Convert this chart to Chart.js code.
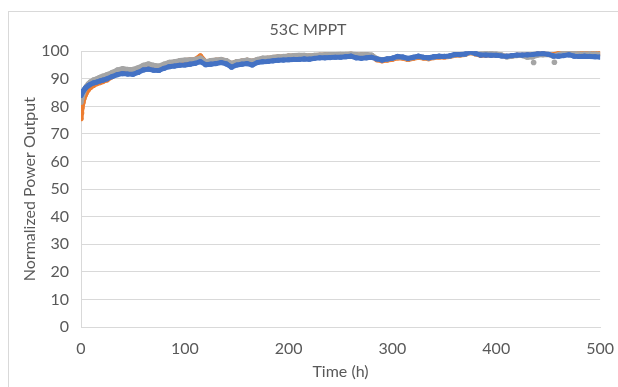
<!DOCTYPE html>
<html>
<head>
<meta charset="utf-8">
<script src="https://cdn.jsdelivr.net/npm/chart.js@4"></script>
<style>
  html, body { margin: 0; padding: 0; background: #ffffff; }
  #wrap { position: relative; width: 618px; height: 387px; overflow: hidden; }
  #frame { position: absolute; left: 8px; top: 11px; width: 640px; height: 420px; border: 1px solid #d9d9d9; box-sizing: border-box; }
  #c { position: absolute; left: 0; top: 0; }
</style>
</head>
<body>
<div id="wrap">
  <div id="frame"></div>
  <canvas id="c" width="618" height="387"></canvas>
</div>
<script>
// Time (h)
const times = [0,1,2,3,4,5,7,9,12,15,18,21,25,30,35,40,45,50,55,60,65,70,75,80,85,90,95,100,
  105,110,115,120,125,130,135,140,145,150,155,160,165,170,175,180,185,190,195,200,
  205,210,215,220,225,230,235,240,245,250,255,260,265,270,275,280,285,290,295,300,
  305,310,315,320,325,330,335,340,345,350,355,360,365,370,375,380,385,390,395,400,
  405,410,415,420,425,430,435,440,445,450,455,460,465,470,475,480,485,490,495,500];

const blueVals = [84.0,84.8,85.5,86.0,86.5,86.9,87.5,88.0,88.5,88.8,89.2,89.5,90.0,90.8,91.5,91.9,91.7,91.6,92.3,93.2,93.5,93.1,93.0,93.8,94.4,94.6,94.9,95.0,
  95.3,95.6,96.2,95.1,95.3,95.5,95.9,95.4,94.2,95.0,95.3,95.5,95.0,95.9,96.2,96.3,96.5,96.7,96.8,96.9,
  97.0,97.0,97.2,97.1,97.4,97.6,97.6,97.7,97.8,97.8,98.0,98.2,97.6,97.4,97.6,97.8,97.2,96.8,97.2,97.5,
  98.1,97.9,97.4,97.8,98.2,97.8,97.6,98.0,98.2,98.1,98.3,98.8,98.8,99.0,99.8,99.2,98.6,98.6,98.5,98.5,
  98.3,98.2,98.4,98.6,98.6,98.7,98.8,99.1,99.2,98.9,98.3,98.2,98.4,98.7,98.2,98.1,98.2,98.1,98.0,97.9];

const grayVals = [81.5,83.0,84.5,85.7,86.5,87.2,88.2,88.9,89.6,90.0,90.5,91.0,91.5,92.3,93.2,93.7,93.4,93.4,94.0,94.9,95.4,94.9,94.6,95.3,96.0,96.2,96.6,96.8,
  96.9,97.0,97.5,96.2,96.6,96.8,97.0,96.6,95.6,96.2,96.5,96.8,96.4,97.0,97.5,97.5,97.8,98.0,98.1,98.3,
  98.4,98.5,98.5,98.3,98.5,98.6,98.7,98.8,98.8,98.9,98.9,99.0,98.8,98.7,98.8,98.6,97.3,96.9,97.2,97.4,
  98.0,97.8,97.3,97.7,98.1,97.7,97.5,97.9,98.1,98.1,98.2,98.7,98.7,98.9,99.6,99.1,99.0,99.4,99.3,99.0,
  98.7,97.9,98.2,98.4,98.4,97.8,97.9,98.6,98.7,98.8,98.2,98.8,99.4,100.3,99.5,99.0,99.0,99.1,99.0,98.9];

const orangeVals = [76.5,79.5,81.5,83.0,84.0,84.8,86.0,86.8,87.6,88.2,88.6,89.0,89.6,90.8,92.2,92.9,92.8,92.7,93.4,94.3,94.8,94.3,94.0,94.9,95.8,96.0,96.4,96.6,
  96.8,97.0,98.3,96.1,96.5,96.7,96.9,96.5,95.5,96.1,96.4,96.7,96.3,96.9,97.3,97.4,97.7,97.9,98.0,98.2,
  98.3,98.4,98.4,98.2,98.4,98.5,98.6,98.7,98.7,98.8,98.8,98.9,98.7,98.6,98.7,98.4,96.9,96.5,96.8,97.1,
  97.6,97.5,97.0,97.4,97.8,97.5,97.3,97.7,97.9,97.9,98.1,98.5,98.6,98.8,99.5,99.0,98.5,98.6,98.6,98.6,
  98.4,98.1,98.3,98.5,98.5,98.6,98.7,99.0,99.1,98.8,98.7,99.2,99.5,99.8,99.5,99.3,99.3,99.4,99.3,99.2];

// isolated gray markers below the band
const grayOutT = [436, 456];
const grayOutV = [95.9, 96.0];
// early orange markers below the start
const orangeOutT = [0, 0.5];
const orangeOutV = [75.6, 77.6];

const xTicks = [0,100,200,300,400,500];
const yTicks = [0,10,20,30,40,50,60,70,80,90,100];

const BLUE = '#4472C4', ORANGE = '#ED7D31', GRAY = '#A5A5A5';
const FONT = 'Lato';
const pts = (t, v) => t.map((x, i) => ({ x: x, y: v[i] }));

const lineDs = (label, vals, color, order) => ({
  label, data: pts(times, vals), showLine: true,
  borderColor: color, backgroundColor: color, borderWidth: 5,
  pointRadius: 2.6, pointBorderWidth: 0, pointBackgroundColor: color,
  tension: 0, order, borderCapStyle: 'round', borderJoinStyle: 'round'
});

new Chart(document.getElementById('c'), {
  type: 'scatter',
  data: {
    datasets: [
      lineDs('Blue', blueVals, BLUE, 1),
      lineDs('Gray', grayVals, GRAY, 2),
      { label: 'GrayOut', data: pts(grayOutT, grayOutV), showLine: false, pointRadius: 2.8, pointBorderWidth: 0, pointBackgroundColor: GRAY, order: 2 },
      lineDs('Orange', orangeVals, ORANGE, 3),
      { label: 'OrangeOut', data: pts(orangeOutT, orangeOutV), showLine: false, pointRadius: 2.8, pointBorderWidth: 0, pointBackgroundColor: ORANGE, order: 3 }
    ]
  },
  options: {
    responsive: false,
    animation: false,
    layout: { padding: { left: 8, right: 10, top: 10, bottom: 6 } },
    plugins: {
      legend: { display: false },
      tooltip: { enabled: false },
      title: {
        display: true, text: '53C MPPT', color: '#595959',
        font: { family: FONT, size: 16, weight: 'normal' },
        padding: { top: 10, bottom: 12 }
      }
    },
    scales: {
      x: {
        type: 'linear', min: 0, max: 500,
        afterBuildTicks: (s) => { s.ticks = xTicks.map(v => ({ value: v })); },
        afterFit: (s) => { s.height = 54; },
        ticks: { color: '#595959', font: { family: FONT, size: 16 }, padding: 4 },
        grid: { display: false },
        border: { display: true, color: '#d9d9d9' },
        title: { display: true, text: 'Time (h)', color: '#595959', font: { family: FONT, size: 16 }, padding: { top: 4, bottom: 0 } }
      },
      y: {
        type: 'linear', min: 0, max: 100,
        afterBuildTicks: (s) => { s.ticks = yTicks.map(v => ({ value: v })); },
        afterFit: (s) => { s.width = 73; },
        ticks: { color: '#595959', font: { family: FONT, size: 16 }, padding: 12 },
        grid: { color: '#d9d9d9', drawTicks: false },
        border: { display: true, color: '#d9d9d9' },
        title: { display: true, text: 'Normalized Power Output', color: '#595959', font: { family: FONT, size: 16 }, padding: { top: 12, bottom: 4 } }
      }
    }
  }
});
</script>
</body>
</html>
